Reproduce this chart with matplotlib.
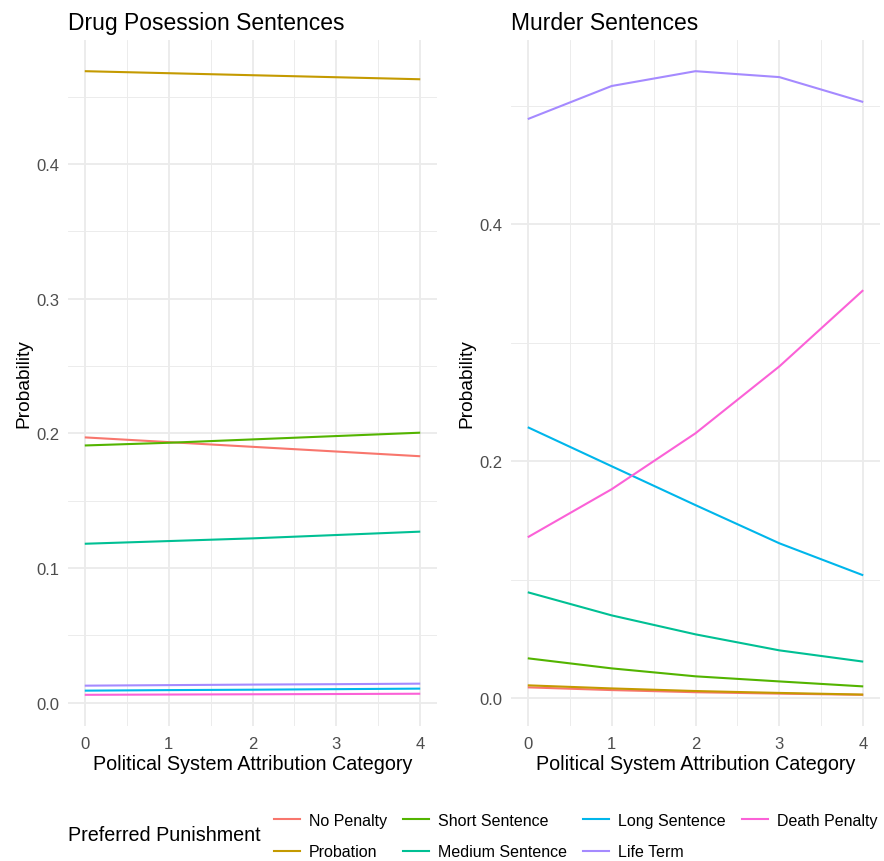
import numpy as np
import matplotlib
matplotlib.use("Agg")
import matplotlib.pyplot as plt
from matplotlib.ticker import MultipleLocator
from matplotlib.lines import Line2D

plt.rcParams["font.family"] = ["Liberation Sans", "DejaVu Sans"]

# attribution categories
x = [0, 1, 2, 3, 4]
punishments = ["No Penalty", "Probation", "Short Sentence", "Medium Sentence",
               "Long Sentence", "Life Term", "Death Penalty"]
colors = ["#F8766D", "#C49A00", "#53B400", "#00C094", "#00B6EB", "#A58AFF", "#FB61D7"]

# drug possession predicted probabilities
drug_no_penalty = [0.197, 0.1935, 0.190, 0.1865, 0.183]
drug_probation = [0.469, 0.4675, 0.466, 0.4645, 0.463]
drug_short = [0.191, 0.193, 0.1955, 0.198, 0.2005]
drug_medium = [0.118, 0.120, 0.122, 0.1245, 0.127]
drug_long = [0.0089, 0.0093, 0.0096, 0.0100, 0.0104]
drug_life = [0.0126, 0.0130, 0.0134, 0.0137, 0.0141]
drug_death = [0.0058, 0.0060, 0.0062, 0.0064, 0.0066]

# murder predicted probabilities
murder_no_penalty = [0.0093, 0.0070, 0.0052, 0.0040, 0.0030]
murder_probation = [0.0110, 0.0084, 0.0062, 0.0046, 0.0032]
murder_short = [0.0338, 0.0253, 0.0186, 0.0143, 0.0101]
murder_medium = [0.0895, 0.0700, 0.0540, 0.0405, 0.0310]
murder_long = [0.2287, 0.1958, 0.1630, 0.1308, 0.1038]
murder_life = [0.4886, 0.5165, 0.5290, 0.5240, 0.5030]
murder_death = [0.1359, 0.1764, 0.2236, 0.2800, 0.3443]

drug = [drug_no_penalty, drug_probation, drug_short, drug_medium,
        drug_long, drug_life, drug_death]
murder = [murder_no_penalty, murder_probation, murder_short, murder_medium,
          murder_long, murder_life, murder_death]

W, H = 884, 862
fig = plt.figure(figsize=(W / 100, H / 100), dpi=100)

grid_col = "#EBEBEB"


def panel(rect, series, title, major, minor):
    ax = fig.add_axes(rect)
    for vals, c in zip(series, colors):
        ax.plot(x, vals, color=c, lw=1.5, solid_capstyle="butt")
    lo = min(min(v) for v in series)
    hi = max(max(v) for v in series)
    pad = (hi - lo) * 0.05
    ax.set_ylim(lo - pad, hi + pad)
    ax.set_xlim(-0.2, 4.2)
    ax.xaxis.set_major_locator(MultipleLocator(1))
    ax.xaxis.set_minor_locator(MultipleLocator(0.5))
    ax.yaxis.set_major_locator(MultipleLocator(major))
    ax.yaxis.set_minor_locator(MultipleLocator(minor))
    ax.grid(True, which="major", color=grid_col, lw=1.3)
    ax.grid(True, which="minor", color=grid_col, lw=0.65)
    ax.set_axisbelow(True)
    for s in ax.spines.values():
        s.set_visible(False)
    ax.tick_params(which="both", length=0, labelsize=12, colors="#4D4D4D", pad=6)
    ax.tick_params(axis="x", pad=7)
    ax.yaxis.set_major_formatter(plt.FuncFormatter(lambda v, p: f"{v:.1f}"))
    ax.set_xlabel("Political System Attribution Category", fontsize=14.2, labelpad=2)
    ax.set_ylabel("Probability", fontsize=13.8, labelpad=3)
    ax.set_title(title, loc="left", fontsize=16.5, pad=8)
    return ax


top, bottom = 41, 727
panel([68 / W, 1 - bottom / H, 369 / W, (bottom - top) / H], drug,
      "Drug Posession Sentences", 0.1, 0.05)
panel([511 / W, 1 - bottom / H, 369 / W, (bottom - top) / H], murder,
      "Murder Sentences", 0.2, 0.1)

fig.text(68 / W, 1 - 836 / H, "Preferred Punishment", fontsize=14.2, va="center", ha="left")
handles = [Line2D([], [], color=c, lw=1.5) for c in colors]
fig.legend(handles, punishments, ncol=4, frameon=False, fontsize=11.5,
           loc="center left", bbox_to_anchor=(274 / W, 1 - 837 / H),
           handlelength=1.6, handletextpad=0.6, columnspacing=1.0,
           labelspacing=1.05, borderpad=0, borderaxespad=0)

fig.savefig("out.png", dpi=100)
